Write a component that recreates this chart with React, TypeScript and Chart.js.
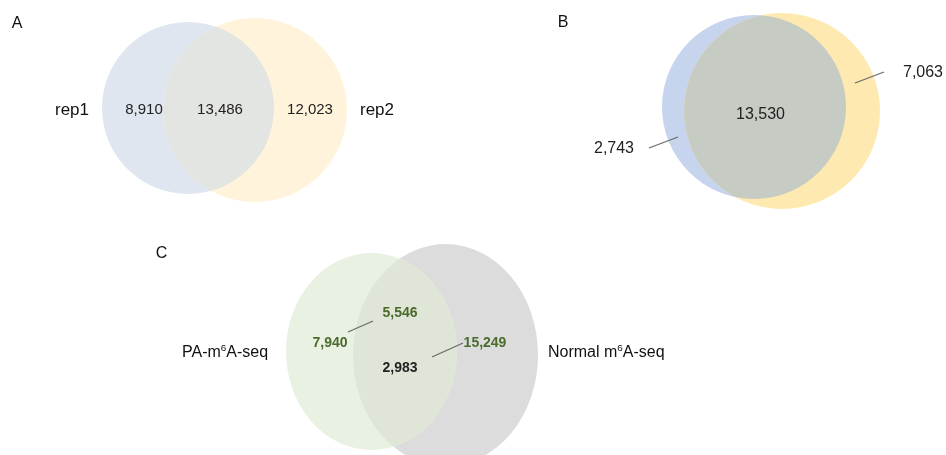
import React, { useEffect, useRef } from "react";
import { Chart, registerables } from "chart.js";

Chart.register(...registerables);

const W = 946;
const H = 455;

// ---------- data ----------
const panelLetters = ["A", "B", "C"];
const setsA = ["rep1", "rep2"];
const countsA = [8910, 13486, 12023]; // rep1 only, shared, rep2 only
const countsB = [2743, 13530, 7063]; // left only, shared, right only
const setsC = ["PA-m6A-seq", "Normal m6A-seq"];
const countsC = [7940, 5546, 2983, 15249];

// ---------- layout (chart units == pixels) ----------
const FONT = "'Liberation Sans', Arial, Helvetica, sans-serif";

const panels = [
  {
    a: { cx: 188, cy: 108, rx: 86, ry: 86, fill: "#e0e6ef" },
    b: { cx: 255, cy: 110, rx: 92, ry: 92, fill: "#fff4db" },
    overlap: "#e3e5e2",
  },
  {
    a: { cx: 754, cy: 107, rx: 92, ry: 92, fill: "#c6d4ee" },
    b: { cx: 782, cy: 111, rx: 98, ry: 98, fill: "#fee9b0" },
    overlap: "#c6cbc4",
  },
  {
    a: { cx: 371.5, cy: 351.5, rx: 85.5, ry: 98.5, fill: "#e9f1e2" },
    b: { cx: 445.5, cy: 355, rx: 92.5, ry: 111, fill: "#dcdcdc" },
    overlap: "#dfe6d8",
    bFirst: true,
  },
];

const letterPos = [
  { x: 17, y: 24 },
  { x: 563, y: 23 },
  { x: 161.5, y: 254 },
];

const fmt = (v: number) => v.toLocaleString("en-US");

type Lbl = { text: string; x: number; y: number; size: number; bold?: boolean; color: string; align?: CanvasTextAlign };

const buildLabels = (): Lbl[] => {
  const out: Lbl[] = [];
  panelLetters.forEach((t, i) =>
    out.push({ text: t, x: letterPos[i].x, y: letterPos[i].y, size: 16, color: "#111" })
  );
  // A
  out.push({ text: setsA[0], x: 72, y: 110, size: 17, color: "#111" });
  out.push({ text: setsA[1], x: 377, y: 110, size: 17, color: "#111" });
  const aPos = [144, 220, 310];
  countsA.forEach((v, i) => out.push({ text: fmt(v), x: aPos[i], y: 110, size: 15, color: "#222" }));
  // B
  const bPos = [
    { x: 614, y: 149 },
    { x: 760.5, y: 115 },
    { x: 923, y: 73 },
  ];
  countsB.forEach((v, i) => out.push({ text: fmt(v), x: bPos[i].x, y: bPos[i].y, size: 16, color: "#222" }));
  // C
  const cPos = [
    { x: 330, y: 343, c: "#4b6b2d" },
    { x: 400, y: 313, c: "#4b6b2d" },
    { x: 400, y: 368, c: "#222" },
    { x: 485, y: 343, c: "#4b6b2d" },
  ];
  countsC.forEach((v, i) =>
    out.push({ text: fmt(v), x: cPos[i].x, y: cPos[i].y, size: 14, bold: true, color: cPos[i].c })
  );
  out.push({ text: setsC[0], x: 182, y: 353, size: 16, color: "#111", align: "left" });
  out.push({ text: setsC[1], x: 548, y: 353, size: 16, color: "#111", align: "left" });
  return out;
};

const leaders = [
  [649, 148, 678, 137],
  [855, 83, 884, 72],
  [348, 332, 373, 321],
  [432, 357, 463, 343],
];

const drawRich = (ctx: CanvasRenderingContext2D, l: Lbl, x: number, y: number) => {
  const font = (s: number) => `${l.bold ? "bold " : ""}${s}px ${FONT}`;
  ctx.fillStyle = l.color;
  ctx.textBaseline = "middle";
  const m = l.text.match(/^(.*m)(6)(A.*)$/);
  if (!m) {
    ctx.font = font(l.size);
    ctx.textAlign = l.align || "center";
    ctx.fillText(l.text, x, y);
    return;
  }
  ctx.textAlign = "left";
  ctx.font = font(l.size);
  ctx.fillText(m[1], x, y);
  let cx = x + ctx.measureText(m[1]).width;
  ctx.font = font(l.size * 0.62);
  ctx.fillText(m[2], cx, y - l.size * 0.32);
  cx += ctx.measureText(m[2]).width;
  ctx.font = font(l.size);
  ctx.fillText(m[3], cx, y);
};

const vennPlugin = {
  id: "venn",
  beforeDatasetsDraw(chart: any) {
    const { ctx, scales } = chart;
    const xs = scales.x;
    const ys = scales.y;
    const px = (v: number) => xs.getPixelForValue(v);
    const py = (v: number) => ys.getPixelForValue(v);
    const path = (s: any) => {
      ctx.beginPath();
      ctx.ellipse(
        px(s.cx),
        py(s.cy),
        Math.abs(px(s.cx + s.rx) - px(s.cx)),
        Math.abs(py(s.cy + s.ry) - py(s.cy)),
        0,
        0,
        Math.PI * 2
      );
    };
    ctx.save();
    panels.forEach((p: any) => {
      const order = p.bFirst ? [p.b, p.a] : [p.a, p.b];
      order.forEach((s) => {
        path(s);
        ctx.fillStyle = s.fill;
        ctx.fill();
      });
      ctx.save();
      path(p.a);
      ctx.clip();
      path(p.b);
      ctx.fillStyle = p.overlap;
      ctx.fill();
      ctx.restore();
    });
    ctx.restore();
  },
  afterDatasetsDraw(chart: any) {
    const { ctx, scales } = chart;
    const px = (v: number) => scales.x.getPixelForValue(v);
    const py = (v: number) => scales.y.getPixelForValue(v);
    ctx.save();
    ctx.strokeStyle = "#6b6b6b";
    ctx.lineWidth = 1.3;
    leaders.forEach(([x1, y1, x2, y2]) => {
      ctx.beginPath();
      ctx.moveTo(px(x1), py(y1));
      ctx.lineTo(px(x2), py(y2));
      ctx.stroke();
    });
    buildLabels().forEach((l) => drawRich(ctx, l, px(l.x), py(l.y)));
    ctx.restore();
  },
};

export default function App() {
  const ref = useRef<HTMLCanvasElement | null>(null);
  useEffect(() => {
    document.body.style.margin = "0";
    if (!ref.current) return;
    const chart = new Chart(ref.current, {
      type: "scatter",
      data: { datasets: [{ data: [], pointRadius: 0 }] },
      options: {
        animation: false,
        responsive: false,
        maintainAspectRatio: false,
        layout: { padding: 0 },
        plugins: { legend: { display: false }, tooltip: { enabled: false } },
        scales: {
          x: { type: "linear", min: 0, max: W, display: false },
          y: { type: "linear", min: 0, max: H, reverse: true, display: false },
        },
      },
      plugins: [vennPlugin],
    });
    return () => chart.destroy();
  }, []);
  return (
    <div style={{ width: W, height: H, background: "#fff" }}>
      <canvas ref={ref} width={W} height={H} style={{ display: "block" }} />
    </div>
  );
}
